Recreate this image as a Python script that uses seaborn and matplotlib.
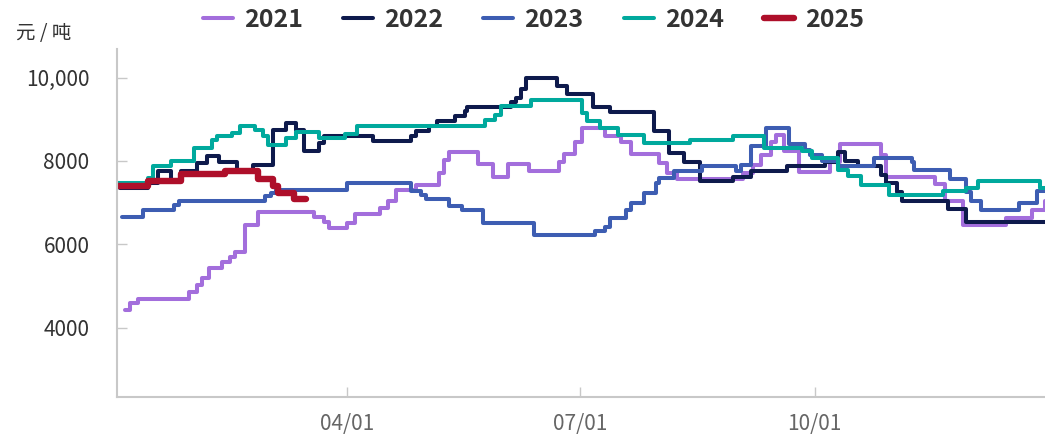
import pandas as pd
import matplotlib
matplotlib.use("Agg")
import matplotlib.pyplot as plt
import matplotlib.dates as mdates
import seaborn as sns

# Series labels and colours
YEARS = ["2021", "2022", "2023", "2024", "2025"]
COLORS = ["#A36EDC", "#0E1A4C", "#3D5DB2", "#00A99D", "#AE0F2A"]
WIDTHS = [2.9, 2.9, 2.9, 2.9, 4.6]

# Price change points per year: day offset from Jan 1 and new price (元/吨)
days_2021 = [3, 5, 8, 28, 31, 33, 36, 41, 44, 46, 50, 55, 77, 81, 83, 90, 93,
             103, 106, 109, 117, 126, 128, 130, 141, 147, 153, 161, 173, 175,
             179, 182, 191, 197, 201, 212, 215, 219, 245, 249, 252, 256, 258,
             261, 267, 279, 283, 299, 301, 320, 324, 331, 348, 358, 363]
price_2021 = [4430, 4590, 4680, 4850, 5030, 5200, 5440, 5580, 5700, 5820, 6460,
              6770, 6660, 6540, 6390, 6510, 6720, 6870, 7030, 7300, 7420, 7700,
              8030, 8210, 7920, 7610, 7920, 7770, 7970, 8170, 8450, 8780, 8610,
              8450, 8170, 7950, 7710, 7570, 7710, 7900, 8150, 8450, 8620, 8230,
              7730, 7980, 8410, 8150, 7620, 7440, 7030, 6460, 6630, 6830, 7030]

days_2022 = [1, 12, 16, 21, 25, 31, 35, 40, 47, 53, 61, 66, 70, 73, 79, 81, 100,
             115, 117, 122, 125, 132, 136, 137, 154, 156, 158, 160, 172, 176,
             186, 193, 210, 216, 222, 228, 241, 248, 262, 277, 282, 285, 290,
             299, 301, 305, 307, 325, 332]
price_2022 = [7350, 7470, 7750, 7550, 7750, 7950, 8110, 7980, 7750, 7900, 8750,
              8900, 8750, 8230, 8430, 8610, 8470, 8590, 8710, 8830, 8950, 9090,
              9200, 9300, 9420, 9500, 9720, 9990, 9810, 9600, 9300, 9170, 8710,
              8190, 7970, 7520, 7620, 7760, 7870, 7980, 8210, 8000, 7870, 7670,
              7470, 7250, 7040, 6850, 6540]

days_2023 = [2, 10, 22, 24, 58, 60, 62, 90, 115, 119, 121, 130, 135, 143, 163,
             187, 191, 193, 199, 201, 206, 211, 212, 218, 229, 242, 244, 248,
             254, 263, 269, 271, 276, 282, 296, 311, 312, 326, 332, 334, 338,
             353, 360]
price_2023 = [6660, 6830, 6950, 7030, 7150, 7230, 7300, 7470, 7280, 7180, 7090,
              6930, 6830, 6520, 6230, 6320, 6420, 6630, 6830, 6990, 7230, 7470,
              7600, 7760, 7870, 7760, 7900, 8350, 8800, 8400, 8270, 8150, 8000,
              7880, 8070, 7970, 7790, 7570, 7250, 7040, 6830, 6990, 7270]

days_2024 = [0, 12, 14, 21, 30, 37, 39, 45, 48, 54, 57, 59, 66, 70, 79, 89, 94,
             144, 148, 150, 162, 182, 184, 189, 196, 206, 224, 241, 253, 268,
             272, 282, 286, 291, 302, 323, 332, 337, 361]
price_2024 = [7480, 7590, 7870, 8000, 8310, 8500, 8600, 8680, 8840, 8750, 8590,
              8390, 8560, 8690, 8560, 8640, 8830, 8990, 9110, 9310, 9470, 9150,
              8960, 8800, 8630, 8430, 8510, 8610, 8320, 8230, 8070, 7790, 7630,
              7430, 7190, 7270, 7360, 7510, 7360]

days_2025 = [0, 12, 25, 42, 55, 61, 63, 69]
price_2025 = [7390, 7520, 7680, 7770, 7570, 7410, 7230, 7080]
END_2025 = 74

# Axis texts
Y_TICKS = [4000, 6000, 8000, 10000]
Y_TICK_LABELS = ["4000", "6000", "8000", "10,000"]
X_TICK_DATES = ["04-01", "07-01", "10-01"]
UNIT = "元 / 吨"

BASE = pd.Timestamp("2023-01-01")
YEAR_END = 364

series = [
    (days_2021, price_2021, YEAR_END),
    (days_2022, price_2022, YEAR_END),
    (days_2023, price_2023, YEAR_END),
    (days_2024, price_2024, YEAR_END),
    (days_2025, price_2025, END_2025),
]

frames = []
for yr, (d, p, end) in zip(YEARS, series):
    dd = list(d) + [end]
    pp = list(p) + [p[-1]]
    frames.append(pd.DataFrame({
        "date": BASE + pd.to_timedelta(dd, unit="D"),
        "price": pp,
        "year": yr,
    }))
df = pd.concat(frames, ignore_index=True)

sns.set_theme(style="white")
plt.rcParams["font.family"] = ["Noto Sans CJK SC", "DejaVu Sans"]

W, H = 1045, 437
fig = plt.figure(figsize=(W / 100, H / 100), dpi=100)
left_px, right_px, top_px, bottom_px = 117.3, 1047.3, 49.3, 396.7
ax = fig.add_axes([left_px / W, 1 - bottom_px / H,
                   (right_px - left_px) / W, (bottom_px - top_px) / H])

for yr, color, lw in zip(YEARS, COLORS, WIDTHS):
    sns.lineplot(data=df[df["year"] == yr], x="date", y="price", ax=ax,
                 color=color, linewidth=lw, drawstyle="steps-post",
                 estimator=None, sort=False, label=yr)

ax.set_xlim(BASE, BASE + pd.Timedelta(days=YEAR_END))
ax.set_ylim(2340, 10680)

ax.set_yticks(Y_TICKS)
ax.set_yticklabels(Y_TICK_LABELS)
ax.set_xticks([pd.Timestamp(f"2023-{md}") for md in X_TICK_DATES])
ax.xaxis.set_major_formatter(mdates.DateFormatter("%m/%d"))
ax.set_xlabel("")
ax.set_ylabel("")

ax.tick_params(axis="y", left=True, direction="in", length=7.5, width=1,
               color="#c8c8c8", pad=20, labelsize=15, labelcolor="#333333")
ax.tick_params(axis="x", bottom=True, direction="in", length=7, width=1,
               color="#c8c8c8", pad=12, labelsize=15, labelcolor="#666666")
for lab in ax.get_xticklabels() + ax.get_yticklabels():
    lab.set_fontweight("light")

for side in ["top", "right"]:
    ax.spines[side].set_visible(False)
for side in ["left", "bottom"]:
    ax.spines[side].set_color("#c8c8c8")
    ax.spines[side].set_linewidth(1.5)

handles, labels = ax.get_legend_handles_labels()
ax.get_legend().remove()
fig.legend(handles, labels, ncol=5, loc="center",
           bbox_to_anchor=(533.5 / W, 1 - 20 / H), frameon=False,
           prop={"size": 18, "weight": "semibold"}, labelcolor="#333333",
           handlelength=1.2, handletextpad=0.45, columnspacing=1.6)

fig.text(16 / W, 1 - 33.5 / H, UNIT, ha="left", va="center",
         fontsize=14, color="#333333")

fig.savefig("out.png", dpi=100, facecolor="white")
